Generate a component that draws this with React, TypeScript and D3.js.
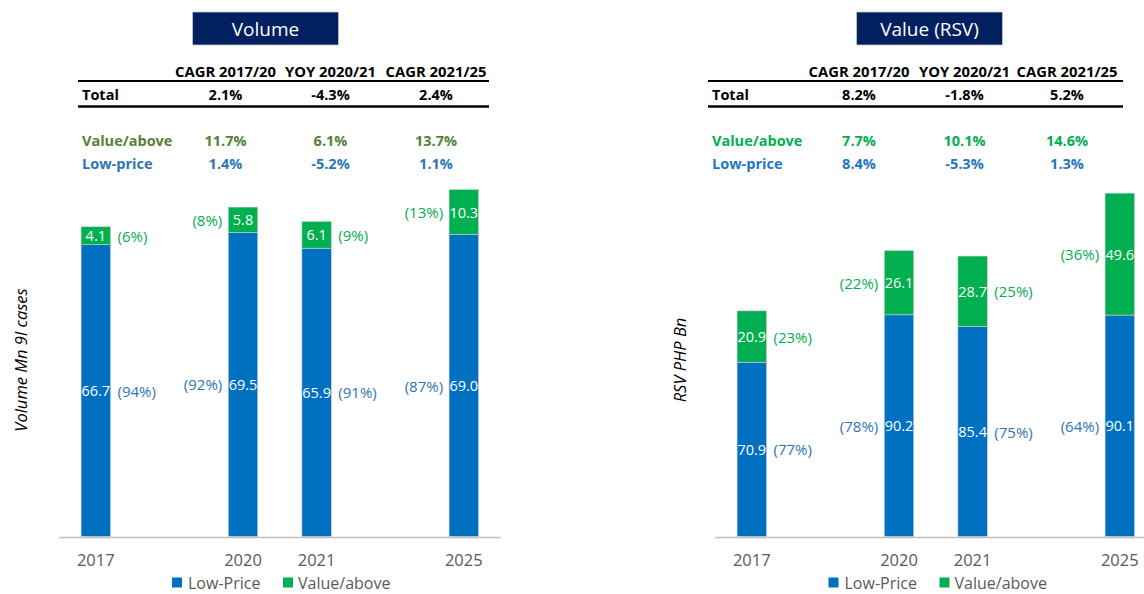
import React from "react";
import * as d3 from "d3";

// ---------- data ----------
const years = ["2017", "2020", "2021", "2025"];
// band slots along the x axis (gaps keep the time spacing of the original)
const slots = ["2017", "gapA", "2020", "2021", "gapB", "2025"];
const pctSide = ["right", "left", "right", "left"];

const volLow = [66.7, 69.5, 65.9, 69.0];
const volValue = [4.1, 5.8, 6.1, 10.3];
const volLowPct = ["(94%)", "(92%)", "(91%)", "(87%)"];
const volValuePct = ["(6%)", "(8%)", "(9%)", "(13%)"];

const rsvLow = [70.9, 90.2, 85.4, 90.1];
const rsvValue = [20.9, 26.1, 28.7, 49.6];
const rsvLowPct = ["(77%)", "(78%)", "(75%)", "(64%)"];
const rsvValuePct = ["(23%)", "(22%)", "(25%)", "(36%)"];

const growthCols = ["CAGR 2017/20", "YOY 2020/21", "CAGR 2021/25"];
const volTotalGrowth = ["2.1%", "-4.3%", "2.4%"];
const volValueGrowth = ["11.7%", "6.1%", "13.7%"];
const volLowGrowth = ["1.4%", "-5.2%", "1.1%"];
const rsvTotalGrowth = ["8.2%", "-1.8%", "5.2%"];
const rsvValueGrowth = ["7.7%", "10.1%", "14.6%"];
const rsvLowGrowth = ["8.4%", "-5.3%", "1.3%"];

const seriesNames = ["Low-Price", "Value/above"];

// ---------- styles ----------
const BLUE = "#0070c0";
const GREEN = "#00b050";
const FONT = "'Open Sans', 'Noto Sans', sans-serif";

type PanelProps = {
  title: string;
  yTitle: string;
  low: number[];
  value: number[];
  lowPct: string[];
  valuePct: string[];
  totalG: string[];
  valueG: string[];
  lowG: string[];
  yMax: number;
  x0: number;
  titleX: number;
  tableX0: number;
  tableX1: number;
  colX: number[];
  valueColor: string;
  lowColor: string;
  legendX: number;
  yTitleX: number;
};

function Panel(p: PanelProps) {
  const baseline = 536.5;
  const plotH = 350;
  const x = d3.scaleBand<string>().domain(slots).range([p.x0, p.x0 + 441.6]).paddingInner(0.6).paddingOuter(0.3);
  const y = d3.scaleLinear().domain([0, p.yMax]).range([baseline, baseline - plotH]);
  const bw = x.bandwidth();

  const stack = d3
    .stack<number>()
    .keys(["low", "value"])
    .value((i, k) => (k === "low" ? p.low[i] : p.value[i]))(d3.range(years.length));

  const bodySize = 14.5;

  return (
    <g>
      {/* title box */}
      <rect x={p.titleX} y={12} width={146} height={33} fill="#002060" stroke="#c8c8c8" strokeWidth={0.8} />
      <text x={p.titleX + 73} y={28.5} textAnchor="middle" dominantBaseline="central" fill="#fff" fontSize={19} fontFamily={FONT}>
        {p.title}
      </text>

      {/* growth table */}
      {growthCols.map((c, i) => (
        <text key={c} x={p.colX[i]} y={76.5} textAnchor="middle" fontSize={14.8} fontWeight={700} fontFamily={FONT} fill="#000">
          {c}
        </text>
      ))}
      <line x1={p.tableX0} x2={p.tableX1} y1={81} y2={81} stroke="#000" strokeWidth={2} />
      <text x={p.tableX0 + 4} y={99.5} fontSize={bodySize} fontWeight={700} fontFamily={FONT} fill="#000">Total</text>
      {p.totalG.map((v, i) => (
        <text key={i} x={p.colX[i]} y={99.5} textAnchor="middle" fontSize={bodySize} fontWeight={700} fontFamily={FONT} fill="#000">
          {v}
        </text>
      ))}
      <line x1={p.tableX0} x2={p.tableX1} y1={106.5} y2={106.5} stroke="#000" strokeWidth={2.5} />
      <text x={p.tableX0 + 4} y={146} fontSize={bodySize} fontWeight={700} fontFamily={FONT} fill={p.valueColor}>Value/above</text>
      {p.valueG.map((v, i) => (
        <text key={i} x={p.colX[i]} y={146} textAnchor="middle" fontSize={bodySize} fontWeight={700} fontFamily={FONT} fill={p.valueColor}>
          {v}
        </text>
      ))}
      <text x={p.tableX0 + 4} y={168.5} fontSize={bodySize} fontWeight={700} fontFamily={FONT} fill={p.lowColor}>Low-price</text>
      {p.lowG.map((v, i) => (
        <text key={i} x={p.colX[i]} y={168.5} textAnchor="middle" fontSize={bodySize} fontWeight={700} fontFamily={FONT} fill={p.lowColor}>
          {v}
        </text>
      ))}

      {/* y title */}
      <text
        transform={`translate(${p.yTitleX},360) rotate(-90)`}
        textAnchor="middle"
        dominantBaseline="central"
        fontSize={16.5}
        fontStyle="italic"
        fontFamily={FONT}
        fill="#000"
      >
        {p.yTitle}
      </text>

      {/* bars */}
      {stack.map((layer, li) =>
        layer.map((seg, i) => {
          const bx = x(years[i])!;
          const top = y(seg[1]);
          const bot = y(seg[0]);
          const cy = (top + bot) / 2;
          const val = li === 0 ? p.low[i] : p.value[i];
          const pct = li === 0 ? p.lowPct[i] : p.valuePct[i];
          const right = pctSide[i] === "right";
          return (
            <g key={`${li}-${i}`}>
              <rect x={bx} y={top} width={bw} height={bot - top} fill={li === 0 ? BLUE : GREEN} stroke="#d0d0d0" strokeWidth={0.6} />
              <text x={bx + bw / 2} y={cy} textAnchor="middle" dominantBaseline="central" fill="#fff" fontSize={14.5} fontFamily={FONT}>
                {val.toFixed(1)}
              </text>
              <text
                x={right ? bx + bw + 7 : bx - 6}
                y={cy}
                textAnchor={right ? "start" : "end"}
                dominantBaseline="central"
                fill={li === 0 ? "#2e75b6" : GREEN}
                fontSize={15}
                fontFamily={FONT}
              >
                {pct}
              </text>
            </g>
          );
        })
      )}

      {/* axis */}
      <line x1={p.x0} x2={p.x0 + 441.6} y1={537.5} y2={537.5} stroke="#bfbfbf" strokeWidth={1.5} />
      {years.map((yr) => (
        <text key={yr} x={x(yr)! + bw / 2} y={566} textAnchor="middle" fontSize={16.5} fill="#595959" fontFamily={FONT}>
          {yr}
        </text>
      ))}

      {/* legend */}
      <rect x={p.legendX} y={577.5} width={10} height={10} fill={BLUE} />
      <text x={p.legendX + 16} y={582.5} dominantBaseline="central" fontSize={16} fill="#595959" fontFamily={FONT}>
        {seriesNames[0]}
      </text>
      <rect x={p.legendX + 111} y={577.5} width={10} height={10} fill={GREEN} />
      <text x={p.legendX + 126} y={582.5} dominantBaseline="central" fontSize={16} fill="#595959" fontFamily={FONT}>
        {seriesNames[1]}
      </text>
    </g>
  );
}

export default function App() {
  return (
    <svg width={1144} height={594} style={{ position: "absolute", left: 0, top: 0, background: "#fff" }}>
      <rect width={1144} height={594} fill="#fff" />
      <Panel
        title="Volume"
        yTitle="Volume Mn 9l cases"
        low={volLow}
        value={volValue}
        lowPct={volLowPct}
        valuePct={volValuePct}
        totalG={volTotalGrowth}
        valueG={volValueGrowth}
        lowG={volLowGrowth}
        yMax={80}
        x0={59}
        titleX={192.5}
        tableX0={78}
        tableX1={489}
        colX={[225.5, 330.5, 436]}
        valueColor="#548235"
        lowColor="#2e75b6"
        legendX={172}
        yTitleX={20}
      />
      <Panel
        title="Value (RSV)"
        yTitle="RSV PHP Bn"
        low={rsvLow}
        value={rsvValue}
        lowPct={rsvLowPct}
        valuePct={rsvValuePct}
        totalG={rsvTotalGrowth}
        valueG={rsvValueGrowth}
        lowG={rsvLowGrowth}
        yMax={142.4}
        x0={715}
        titleX={856.5}
        tableX0={708}
        tableX1={1123}
        colX={[859, 964.5, 1067]}
        valueColor={GREEN}
        lowColor="#1f77c4"
        legendX={828.5}
        yTitleX={679}
      />
    </svg>
  );
}
